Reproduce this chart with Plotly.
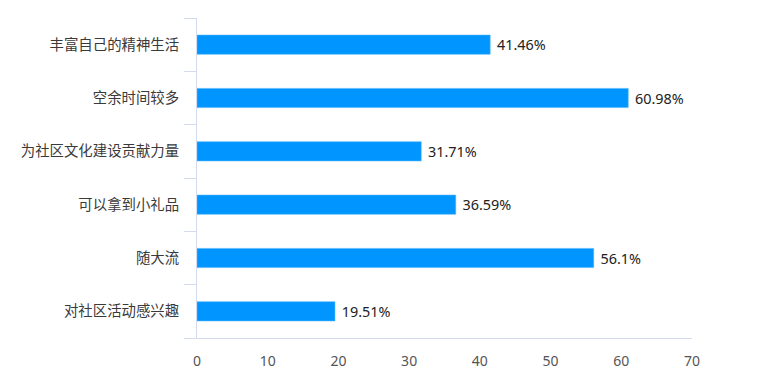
import plotly.graph_objects as go

categories = ["丰富自己的精神生活", "空余时间较多", "为社区文化建设贡献力量",
              "可以拿到小礼品", "随大流", "对社区活动感兴趣"]
values = [41.46, 60.98, 31.71, 36.59, 56.1, 19.51]
x_ticks = [0, 10, 20, 30, 40, 50, 60, 70]

labels = [f"{v:g}%" for v in values]

fig = go.Figure(go.Bar(
    y=categories, x=values, orientation="h",
    marker=dict(color="#0095ff", line=dict(color="#4db5ff", width=0.6)),
    text=labels, textposition="outside",
    texttemplate=" %{text}",
    textfont=dict(size=15, color="#222222", family="Noto Sans, Noto Sans CJK SC"),
    cliponaxis=False,
))

axis_col = "#d3dcee"
# page body has an 8px margin; margins compensate so the plot lands where the reference has it
fig.update_layout(
    width=760, height=383,
    margin=dict(l=189, r=76, t=10, b=53),
    paper_bgcolor="white", plot_bgcolor="white",
    bargap=0.64,
    showlegend=False,
    font=dict(family="Noto Sans CJK SC", color="#555555", size=14),
)
fig.update_xaxes(
    range=[0, 70], tickvals=x_ticks, showgrid=False, zeroline=False,
    showline=True, linecolor=axis_col, linewidth=1,
    ticks="", tickfont=dict(size=14, color="#555555", family="Noto Sans, Noto Sans CJK SC"),
    ticklabelstandoff=10,
)
fig.update_yaxes(
    categoryorder="array", categoryarray=categories[::-1],
    showgrid=False, zeroline=False,
    showline=True, linecolor=axis_col, linewidth=1,
    ticks="outside", tickson="boundaries", ticklen=12, tickcolor=axis_col,
    tickfont=dict(size=14.4, color="#3a3a3a"),
    ticklabelstandoff=14,
)

fig.write_html("out.html")
